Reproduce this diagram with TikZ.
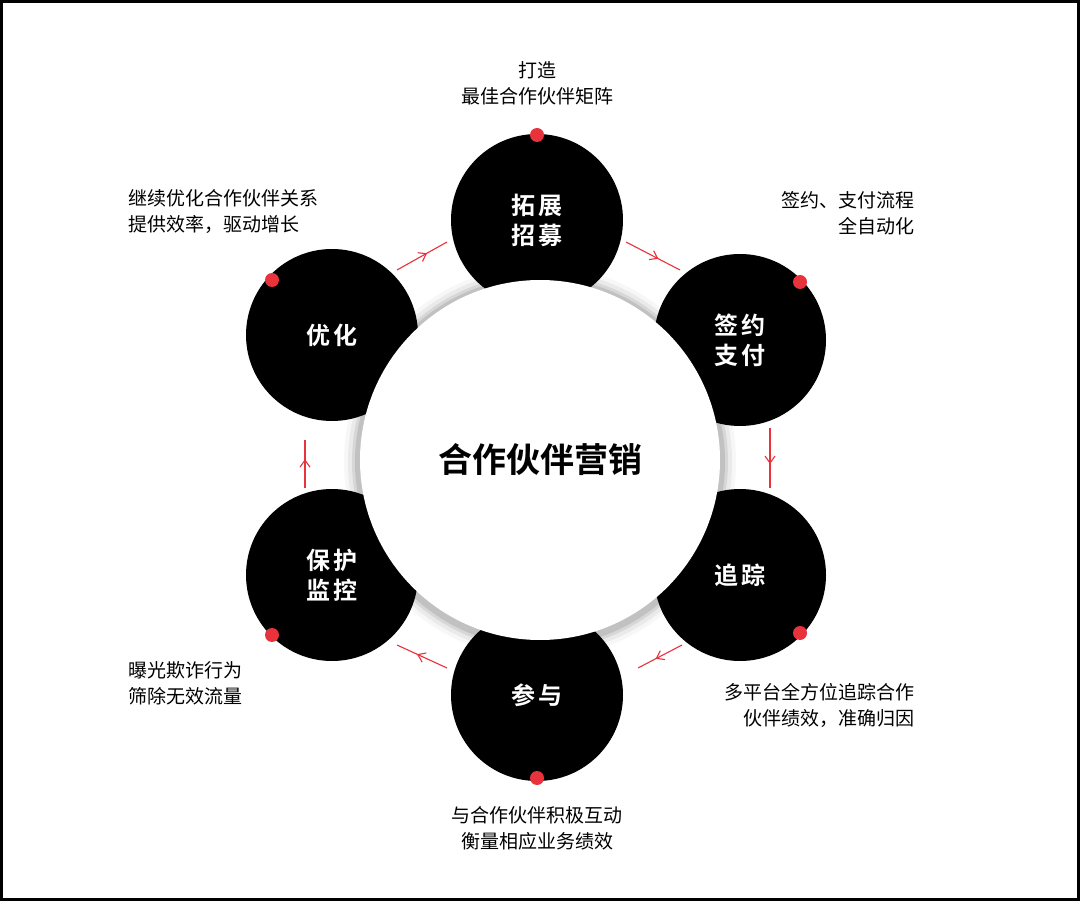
\documentclass[tikz,border=0pt]{standalone}
\usepackage{fontspec}
\setmainfont{Noto Sans CJK SC}
\newfontfamily\cjkb{Noto Sans CJK SC Bold}
\usetikzlibrary{decorations.markings,arrows.meta}
\definecolor{rd}{HTML}{E8323C}
\tikzset{
 blk/.style={circle,fill=black,minimum size=172pt,inner sep=0,text=white,font=\cjkb\fontsize{24}{30}\selectfont,align=center},
 dot/.style={circle,fill=rd,minimum size=14pt,inner sep=0},
 lbl/.style={font=\fontsize{19}{26}\selectfont,inner sep=0},
 flow/.style={rd,line width=1.1pt,decoration={markings,mark=at position 0.6 with {\arrow{Straight Barb[length=7pt,width=10pt]}}},postaction=decorate}
}
\begin{document}
\begin{tikzpicture}[x=1pt,y=-1pt]
\useasboundingbox (0,0) rectangle (1080,901);
\fill[white] (0,0) rectangle (1080,901);
\draw[black,line width=3pt] (1.5,1.5) rectangle (1078.5,899.5);
\node[blk] (a) at (537,220) {拓\,展\\招\,募};
\node[blk] (b) at (740,340) {签\,约\\支\,付};
\node[blk] (c) at (740,575) {追\,踪};
\node[blk] (d) at (537,695) {参\,与};
\node[blk] (e) at (332,575) {保\,护\\监\,控};
\node[blk] (f) at (332,335) {优\,化};
\foreach \r/\o in {196/0.03,192/0.05,188/0.08,185/0.1}{\fill[black,opacity=\o] (540,462) circle (\r);}
\node[circle,fill=white,minimum size=360pt,inner sep=0,font=\cjkb\fontsize{34}{40}\selectfont] (m) at (540,460) {合作伙伴营销};
\node[dot] (da) at (537,135) {};
\node[dot] (db) at (800,282) {};
\node[dot] (dc) at (800,633) {};
\node[dot] (dd) at (537,778) {};
\node[dot] (de) at (272,635) {};
\node[dot] (df) at (272,280) {};
\coordinate (f1) at (397,270); \coordinate (f2) at (447,242);
\coordinate (a1) at (626,242); \coordinate (a2) at (680,270);
\coordinate (b1) at (770,428); \coordinate (b2) at (770,488);
\coordinate (c1) at (682,645); \coordinate (c2) at (638,668);
\coordinate (d1) at (447,668); \coordinate (d2) at (397,645);
\coordinate (e1) at (305,488); \coordinate (e2) at (305,440);
\draw[flow] (f1) -- (f2);
\draw[flow] (a1) -- (a2);
\draw[flow] (b1) -- (b2);
\draw[flow] (c1) -- (c2);
\draw[flow] (d1) -- (d2);
\draw[flow] (e1) -- (e2);
\node[lbl,align=center] (ta) at (537,83) {打造\\最佳合作伙伴矩阵};
\node[lbl,align=right,anchor=east] (tb) at (915,213) {签约、支付流程\\全自动化};
\node[lbl,align=right,anchor=east] (tc) at (915,705) {多平台全方位追踪合作\\伙伴绩效，准确归因};
\node[lbl,align=center] (td) at (537,828) {与合作伙伴积极互动\\衡量相应业务绩效};
\node[lbl,align=left,anchor=west] (te) at (128,683) {曝光欺诈行为\\筛除无效流量};
\node[lbl,align=left,anchor=west] (tf) at (128,212) {继续优化合作伙伴关系\\提供效率，驱动增长};
\end{tikzpicture}
\end{document}
